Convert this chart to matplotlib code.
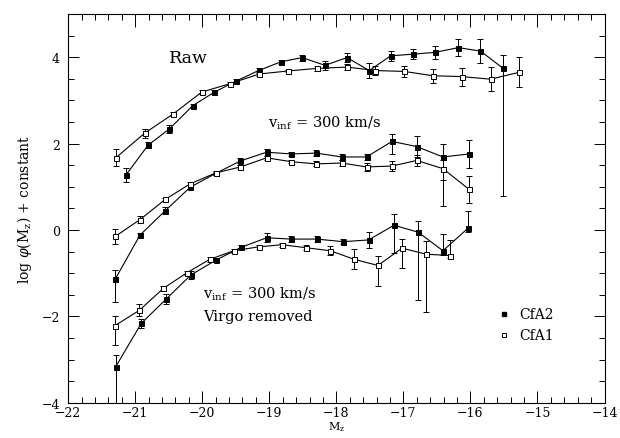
import numpy as np
import matplotlib
matplotlib.use("Agg")
import matplotlib.pyplot as plt
from matplotlib.ticker import MultipleLocator

plt.rcParams['font.family'] = ['DejaVu Serif']
plt.rcParams['mathtext.fontset'] = 'dejavuserif'

# --- Raw ---
raw_cfa2_m = [-21.14, -20.81, -20.49, -20.14, -19.82, -19.49, -19.16, -18.83, -18.51,
              -18.17, -17.84, -17.51, -17.19, -16.85, -16.53, -16.18, -15.85, -15.52]
raw_cfa2_phi = [1.27, 1.96, 2.34, 2.88, 3.19, 3.45, 3.69, 3.89, 3.99,
                3.81, 3.99, 3.69, 4.03, 4.07, 4.11, 4.22, 4.14, 3.75]
raw_cfa2_lo = [0.17, 0.07, 0.10, 0.04, 0.04, 0.04, 0.05, 0.05, 0.07,
               0.10, 0.10, 0.18, 0.12, 0.12, 0.15, 0.19, 0.28, 2.97]
raw_cfa2_hi = [0.17, 0.07, 0.10, 0.04, 0.04, 0.04, 0.05, 0.05, 0.07,
               0.10, 0.10, 0.18, 0.12, 0.12, 0.15, 0.19, 0.28, 0.30]

raw_cfa1_m = [-21.29, -20.86, -20.43, -20.01, -19.58, -19.15, -18.72, -18.29,
              -17.84, -17.42, -16.99, -16.56, -16.13, -15.70, -15.27]
raw_cfa1_phi = [1.67, 2.24, 2.69, 3.19, 3.39, 3.61, 3.68, 3.74,
                3.77, 3.69, 3.67, 3.57, 3.55, 3.49, 3.65]
raw_cfa1_err = [0.20, 0.10, 0.05, 0.05, 0.04, 0.04, 0.03, 0.05,
                0.07, 0.10, 0.12, 0.16, 0.21, 0.28, 0.35]

# --- v_inf = 300 km/s ---
mid_m = [-21.30, -20.93, -20.55, -20.18, -19.80, -19.43, -19.04, -18.67,
         -18.30, -17.92, -17.55, -17.17, -16.80, -16.41, -16.02]
mid_cfa2_phi = [-1.14, -0.12, 0.45, 0.99, 1.31, 1.60, 1.80, 1.76,
                1.78, 1.69, 1.69, 2.05, 1.93, 1.69, 1.76]
mid_cfa2_lo = [0.53, 0.04, 0.08, 0.04, 0.04, 0.06, 0.08, 0.05,
               0.06, 0.06, 0.08, 0.30, 0.25, 0.53, 0.33]
mid_cfa2_hi = [0.22, 0.04, 0.08, 0.04, 0.04, 0.06, 0.08, 0.05,
               0.06, 0.06, 0.08, 0.18, 0.25, 0.29, 0.33]
mid_cfa1_phi = [-0.15, 0.24, 0.71, 1.07, 1.32, 1.46, 1.67, 1.58,
                1.53, 1.55, 1.46, 1.48, 1.61, 1.42, 0.94]
mid_cfa1_lo = [0.18, 0.08, 0.04, 0.04, 0.04, 0.04, 0.04, 0.04,
               0.06, 0.08, 0.10, 0.12, 0.13, 0.86, 0.31]
mid_cfa1_hi = [0.18, 0.08, 0.04, 0.04, 0.04, 0.04, 0.04, 0.04,
               0.06, 0.08, 0.10, 0.12, 0.13, 0.20, 0.31]

# --- v_inf = 300 km/s, Virgo removed ---
vr_cfa2_m = [-21.29, -20.91, -20.54, -20.17, -19.80, -19.42, -19.04, -18.67,
             -18.29, -17.90, -17.52, -17.14, -16.78, -16.41, -16.03]
vr_cfa2_phi = [-3.16, -2.16, -1.60, -1.04, -0.70, -0.40, -0.18, -0.21,
               -0.21, -0.27, -0.23, 0.11, -0.05, -0.48, 0.05]
vr_cfa2_lo = [1.50, 0.10, 0.12, 0.10, 0.05, 0.05, 0.10, 0.06,
              0.06, 0.06, 0.19, 0.65, 1.57, 0.10, 0.10]
vr_cfa2_hi = [0.26, 0.10, 0.12, 0.10, 0.05, 0.05, 0.10, 0.06,
              0.06, 0.06, 0.19, 0.25, 0.27, 0.38, 0.40]

vr_cfa1_m = [-21.30, -20.94, -20.58, -20.23, -19.89, -19.53, -19.16, -18.81,
             -18.45, -18.09, -17.73, -17.38, -17.02, -16.66, -16.31]
vr_cfa1_phi = [-2.21, -1.86, -1.35, -0.99, -0.68, -0.48, -0.39, -0.34,
               -0.41, -0.48, -0.68, -0.82, -0.42, -0.56, -0.59]
vr_cfa1_lo = [0.46, 0.14, 0.05, 0.05, 0.05, 0.05, 0.04, 0.05,
              0.06, 0.10, 0.23, 0.48, 0.45, 1.33, 0.06]
vr_cfa1_hi = [0.21, 0.14, 0.05, 0.05, 0.05, 0.05, 0.04, 0.05,
              0.06, 0.10, 0.23, 0.21, 0.22, 0.31, 0.36]

fig = plt.figure(figsize=(6.2, 4.39), dpi=100)
ax = fig.add_axes([0.11, 0.08, 0.865, 0.886])


def draw(m, phi, lo, hi, filled):
    ax.errorbar(m, phi, yerr=[lo, hi], fmt='-s', color='black', lw=0.8,
                elinewidth=0.7, capsize=2.5, capthick=0.7, ms=3.6,
                mfc='black' if filled else 'white', mec='black', mew=0.7,
                zorder=3)


draw(raw_cfa2_m, raw_cfa2_phi, raw_cfa2_lo, raw_cfa2_hi, True)
draw(raw_cfa1_m, raw_cfa1_phi, raw_cfa1_err, raw_cfa1_err, False)
draw(mid_m, mid_cfa2_phi, mid_cfa2_lo, mid_cfa2_hi, True)
draw(mid_m, mid_cfa1_phi, mid_cfa1_lo, mid_cfa1_hi, False)
draw(vr_cfa2_m, vr_cfa2_phi, vr_cfa2_lo, vr_cfa2_hi, True)
draw(vr_cfa1_m, vr_cfa1_phi, vr_cfa1_lo, vr_cfa1_hi, False)

ax.set_xlim(-22, -14)
ax.set_ylim(-4, 5)
ax.xaxis.set_major_locator(MultipleLocator(1))
ax.xaxis.set_minor_locator(MultipleLocator(0.2))
ax.yaxis.set_major_locator(MultipleLocator(2))
ax.yaxis.set_minor_locator(MultipleLocator(0.5))
ax.tick_params(which='both', direction='in', top=True, right=True,
               width=0.7, labelsize=9)
ax.tick_params(axis='x', which='major', length=9, pad=2.5)
ax.tick_params(axis='y', which='major', length=8, pad=6)
ax.tick_params(which='minor', length=4)
for s in ax.spines.values():
    s.set_linewidth(0.8)

ax.set_xlabel(r'M$_{\rm z}$', fontsize=8, labelpad=0)
ax.set_ylabel(r'log $\varphi$(M$_{\rm z}$) + constant', fontsize=10, labelpad=5)

ax.text(-20.5, 4.0, 'Raw', fontsize=12.5, va='center')
ax.text(-19.02, 2.49, r'v$_{\rm inf}$ = 300 km/s', fontsize=10.5, va='center')
ax.text(-19.99, -1.47, r'v$_{\rm inf}$ = 300 km/s', fontsize=10.5, va='center')
ax.text(-19.99, -1.98, 'Virgo removed', fontsize=10.5, va='center')

# key
ax.plot([-15.5], [-1.94], 's', color='black', ms=3.5)
ax.plot([-15.5], [-2.44], 's', mfc='white', mec='black', mew=0.7, ms=3.5)
ax.text(-15.27, -1.94, 'CfA2', fontsize=10, va='center')
ax.text(-15.27, -2.44, 'CfA1', fontsize=10, va='center')

fig.savefig('out.png', dpi=100)
